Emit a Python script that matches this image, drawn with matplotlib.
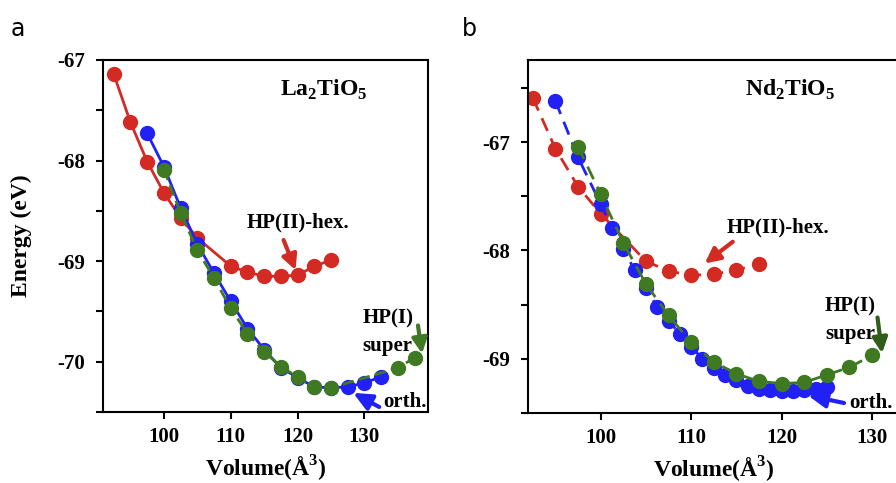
import matplotlib
matplotlib.use("Agg")
import matplotlib.pyplot as plt

# La2TiO5 : energy vs volume
la_hex_v = [92.5, 95, 97.5, 100, 102.5, 105, 110, 112.5, 115, 117.5, 120, 122.5, 125]
la_hex_e = [-67.14, -67.62, -68.01, -68.32, -68.57, -68.77, -69.05, -69.11, -69.15, -69.15, -69.14, -69.05, -68.99]
la_orth_v = [97.5, 100, 102.5, 105, 107.5, 110, 112.5, 115, 117.5, 120, 122.5, 125, 127.5, 130, 132.5]
la_orth_e = [-67.73, -68.06, -68.47, -68.83, -69.12, -69.40, -69.67, -69.88, -70.06, -70.16, -70.25, -70.26, -70.25, -70.21, -70.15]
la_sup_v = [100, 102.5, 105, 107.5, 110, 112.5, 115, 117.5, 120, 122.5, 125, 135, 137.5]
la_sup_e = [-68.09, -68.52, -68.89, -69.17, -69.47, -69.72, -69.90, -70.05, -70.15, -70.25, -70.26, -70.06, -69.96]

# Nd2TiO5 : energy vs volume
nd_hex_v = [92.5, 95, 97.5, 100, 105, 107.5, 110, 112.5, 115, 117.5]
nd_hex_e = [-66.59, -67.06, -67.41, -67.66, -68.10, -68.19, -68.23, -68.22, -68.18, -68.13]
nd_orth_v = [95, 97.5, 100, 101.25, 102.5, 103.75, 105, 106.25, 107.5, 108.75, 110, 111.25,
             112.5, 113.75, 115, 116.25, 117.5, 118.75, 120, 121.25, 122.5, 123.75, 125]
nd_orth_e = [-66.62, -67.14, -67.57, -67.79, -67.99, -68.18, -68.35, -68.52, -68.65, -68.77, -68.89, -69.00,
             -69.09, -69.15, -69.20, -69.25, -69.28, -69.29, -69.30, -69.30, -69.29, -69.28, -69.26]
nd_sup_v = [97.5, 100, 102.5, 105, 107.5, 110, 112.5, 115, 117.5, 120, 122.5, 125, 127.5, 130]
nd_sup_e = [-67.04, -67.48, -67.93, -68.31, -68.60, -68.85, -69.03, -69.14, -69.21, -69.23, -69.22, -69.15, -69.08, -68.97]

RED = "#d42a24"
BLUE = "#2121f5"
GREEN = "#3f7a22"
SERIF = "Liberation Serif"

plt.rcParams["font.family"] = SERIF
plt.rcParams["font.weight"] = "bold"
plt.rcParams["axes.unicode_minus"] = False

fig = plt.figure(figsize=(8.96, 4.83), dpi=100)
ax1 = fig.add_axes([0.115, 0.147, 0.3627, 0.7288])
ax2 = fig.add_axes([0.5896, 0.1455, 0.414, 0.7303])

mk = dict(marker="o", markersize=10, lw=2)

# panel a
ax1.plot(la_hex_v, la_hex_e, color=RED, ls="-", **mk)
ax1.plot(la_orth_v, la_orth_e, color=BLUE, ls="-", **mk)
ax1.plot(la_sup_v, la_sup_e, color=GREEN, ls=(0, (4, 2)), **mk)
ax1.set_xlim(90.9, 139.5)
ax1.set_ylim(-70.5, -67)
ax1.set_yticks([-70, -69, -68, -67])
ax1.set_yticks([-70.5, -69.5, -68.5, -67.5], minor=True)
ax1.set_ylabel("Energy (eV)", fontsize=17, fontweight="bold")
ax1.yaxis.set_label_coords(-0.22, 0.5)

# panel b
ax2.plot(nd_hex_v, nd_hex_e, color=RED, ls=(0, (5, 3)), **mk)
ax2.plot(nd_orth_v, nd_orth_e, color=BLUE, ls=(0, (5, 3)), **mk)
ax2.plot(nd_sup_v, nd_sup_e, color=GREEN, ls=(0, (5, 3)), **mk)
ax2.set_xlim(92, 133)
ax2.set_ylim(-69.5, -66.24)
ax2.set_yticks([-69, -68, -67])
ax2.set_yticks([-69.5, -68.5, -67.5, -66.5], minor=True)

for ax in (ax1, ax2):
    ax.set_xticks([100, 110, 120, 130])
    ax.set_xlabel("Volume(Å$^{\\mathregular{3}}$)", fontsize=17, fontweight="bold", labelpad=5)
    ax.tick_params(which="both", direction="out", width=1.5, labelsize=15, length=5)
    ax.tick_params(axis="y", pad=8)
    ax.tick_params(axis="x", pad=6)
    for lab in ax.get_xticklabels() + ax.get_yticklabels():
        lab.set_fontweight("bold")
    for sp in ax.spines.values():
        sp.set_linewidth(1.5)

txt = dict(fontsize=15, fontweight="bold", family=SERIF)


def arrow(ax, tip, tail, color, style="-|>,head_width=0.45,head_length=0.9"):
    ax.annotate("", xy=tip, xytext=tail,
                arrowprops=dict(arrowstyle=style, lw=3, color=color, shrinkA=0, shrinkB=0))


# labels and arrows, panel a
ax1.text(123.9, -67.3, "La$_{\\mathregular{2}}$TiO$_{\\mathregular{5}}$", ha="center", va="center",
         fontsize=17, fontweight="bold")
ax1.text(112.4, -68.62, "HP(II)-hex.", ha="left", va="center", **txt)
ax1.text(129.7, -69.57, "HP(I)", ha="left", va="center", **txt)
ax1.text(129.7, -69.84, "super", ha="left", va="center", **txt)
ax1.text(132.8, -70.40, "orth.", ha="left", va="center", **txt)
arrow(ax1, (119.7, -69.09), (117.9, -68.79), RED)
arrow(ax1, (138.6, -69.92), (138.0, -69.64), GREEN)
arrow(ax1, (128.3, -70.31), (132.2, -70.45), BLUE, "-|>,head_width=0.5,head_length=1.1")

# labels and arrows, panel b
ax2.text(120.9, -66.52, "Nd$_{\\mathregular{2}}$TiO$_{\\mathregular{5}}$", ha="center", va="center",
         fontsize=17, fontweight="bold")
ax2.text(113.9, -67.79, "HP(II)-hex.", ha="left", va="center", **txt)
ax2.text(124.8, -68.52, "HP(I)", ha="left", va="center", **txt)
ax2.text(124.8, -68.77, "super", ha="left", va="center", **txt)
ax2.text(127.5, -69.41, "orth.", ha="left", va="center", **txt)
arrow(ax2, (111.5, -68.12), (114.6, -67.92), RED)
arrow(ax2, (131.1, -68.95), (130.6, -68.62), "#2f5e1a")
arrow(ax2, (122.9, -69.34), (126.9, -69.41), BLUE, "-|>,head_width=0.5,head_length=1.1")

fig.text(0.012, 0.94, "a", fontsize=17, fontweight="normal", family="DejaVu Sans", va="center")
fig.text(0.515, 0.94, "b", fontsize=17, fontweight="normal", family="DejaVu Sans", va="center")

fig.savefig("out.png", dpi=100)
